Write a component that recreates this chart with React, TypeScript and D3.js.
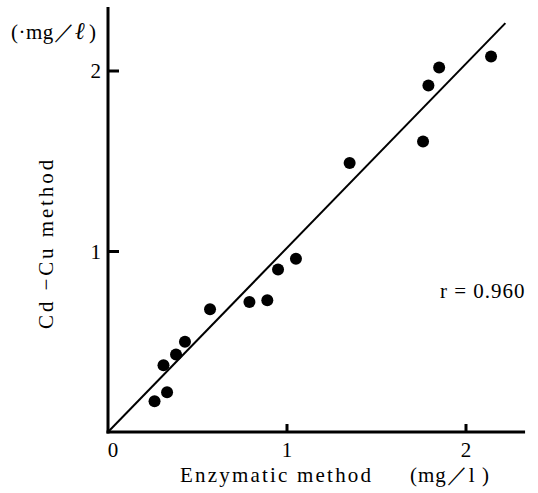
import React from 'react';
import * as d3 from 'd3';

// Enzymatic method (x) vs Cd-Cu method (y), mg/l
const enzymatic = [0.26, 0.33, 0.31, 0.38, 0.43, 0.57, 0.79, 0.89, 0.95, 1.05, 1.35, 1.76, 1.79, 1.85, 2.14];
const cdcu = [0.17, 0.22, 0.37, 0.43, 0.50, 0.68, 0.72, 0.73, 0.90, 0.96, 1.49, 1.61, 1.92, 2.02, 2.08];

// regression line end points
const fitX = [0, 2.22];
const fitY = [0, 2.265];

const xTicks = [0, 1, 2];
const yTicks = [1, 2];

const xLabel = 'Enzymatic method';
const xUnit = '(mg／l )';
const yLabel = 'Cd −Cu method';
const yUnit = '(·mg／';
const rText = 'r = 0.960';

const width = 538;
const height = 493;

export default function App() {
  const x = d3.scaleLinear().domain([0, 2]).range([108, 466]);
  const y = d3.scaleLinear().domain([0, 2]).range([432, 71]);

  const line = d3.line<number>()
    .x((d) => x(d))
    .y((d, i) => y(fitY[i]));

  const font = '"Liberation Serif", "DejaVu Serif", serif';

  return (
    <svg
      width={width}
      height={height}
      viewBox={`0 0 ${width} ${height}`}
      style={{ position: 'absolute', left: 0, top: 0, background: '#fff', fontFamily: font }}
      fill="#000"
    >
      {/* regression line */}
      <path d={line(fitX) || ''} fill="none" stroke="#000" strokeWidth={2} />

      {/* points */}
      {enzymatic.map((d, i) => (
        <circle key={i} cx={x(d)} cy={y(cdcu[i])} r={6} fill="#000" />
      ))}

      {/* axes */}
      <line x1={x(0)} x2={x(0)} y1={y(0) + 1.5} y2={y(2.355)} stroke="#000" strokeWidth={3} />
      <line x1={x(0) - 1.5} x2={x(2.33)} y1={y(0)} y2={y(0)} stroke="#000" strokeWidth={3} />

      {yTicks.map((t) => (
        <g key={'y' + t}>
          <line x1={x(0)} x2={x(0) + 11} y1={y(t)} y2={y(t)} stroke="#000" strokeWidth={3} />
          <text x={x(0) - 7} y={y(t) + 7} fontSize={21} textAnchor="end">{t}</text>
        </g>
      ))}

      {xTicks.map((t) => (
        <g key={'x' + t}>
          {t > 0 && <line x1={x(t)} x2={x(t)} y1={y(0)} y2={y(0) - 8} stroke="#000" strokeWidth={3} />}
          <text x={x(t) + (t === 0 ? 5 : 0)} y={457} fontSize={21} textAnchor="middle">{t}</text>
        </g>
      ))}

      {/* labels */}
      <text x={180} y={482} fontSize={21} letterSpacing={2.2}>{xLabel}</text>
      <text x={410} y={482} fontSize={21} letterSpacing={1}>{xUnit}</text>

      <text
        transform="translate(53,243) rotate(-90)"
        fontSize={21}
        letterSpacing={2.9}
        textAnchor="middle"
      >
        {yLabel}
      </text>

      <text x={11} y={39} fontSize={21} letterSpacing={0.5}>
        {yUnit}
        <tspan fontWeight="bold" fontStyle="italic" fontSize={24}>ℓ</tspan>
        <tspan dx={3}>)</tspan>
      </text>

      <text x={440} y={298} fontSize={21} letterSpacing={1}>{rText}</text>
    </svg>
  );
}
